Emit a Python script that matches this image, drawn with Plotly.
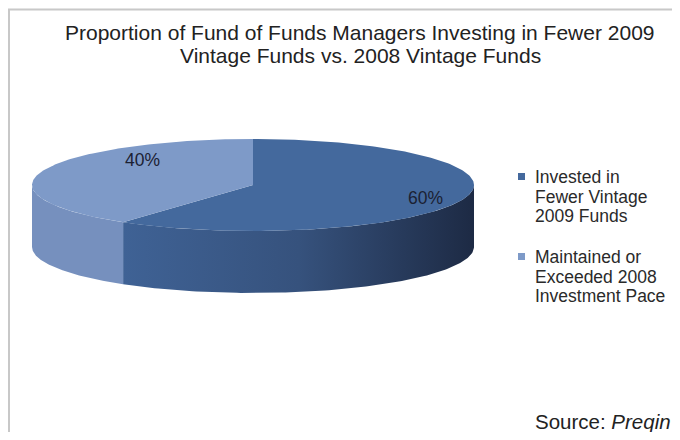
import numpy as np
import plotly.graph_objects as go

# ---- data ----
categories = ["Invested in<br>Fewer Vintage<br>2009 Funds",
              "Maintained or<br>Exceeded 2008<br>Investment Pace"]
values = [60, 40]
value_labels = ["60%", "40%"]
title_lines = ["Proportion of Fund of Funds Managers Investing in Fewer 2009",
               "Vintage Funds vs. 2008 Vintage Funds"]
source_text = "Source: <i>Preqin</i>"

# ---- styling / geometry (pixel space of the figure) ----
W, H = 664, 424
CX, CY, RX, RY, DEPTH = 245, 177, 221, 46, 62
top_colors = ["#44699D", "#7E9AC8"]
side_colors = [[[0, "#3F6295"], [0.5, "#36527D"], [1, "#1D2A44"]],
               [[0, "#7690BE"], [1, "#7690BE"]]]
label_pos = [(417, 190), (134, 152)]
FONT = "Liberation Sans, Arial, sans-serif"

fig = go.Figure()

total = float(sum(values))
starts = np.cumsum([0] + values[:-1]) / total * 360.0
ends = np.cumsum(values) / total * 360.0


def pt(theta_deg, dy=0.0):
    t = np.radians(theta_deg)
    return CX + RX * np.sin(t), CY - RY * np.cos(t) + dy


# side walls (visible front half: 90..270 deg clockwise from top)
for i in range(len(values)):
    a = max(starts[i], 90.0)
    b = min(ends[i], 270.0)
    if b <= a:
        continue
    th = np.linspace(a, b, 120)
    xt, yt = pt(th)
    xb, yb = pt(th[::-1], DEPTH)
    xs = np.concatenate([xt, xb, xt[:1]])
    ys = np.concatenate([yt, yb, yt[:1]])
    fig.add_trace(go.Scatter(
        x=xs, y=ys, mode="lines", fill="toself",
        line=dict(width=0, color=top_colors[i]),
        fillcolor=side_colors[i][0][1],
        fillgradient=dict(type="horizontal", colorscale=side_colors[i]),
        hoverinfo="skip", showlegend=False))

# top faces
for i in range(len(values)):
    th = np.linspace(starts[i], ends[i], 200)
    xa, ya = pt(th)
    xs = np.concatenate([[CX], xa, [CX]])
    ys = np.concatenate([[CY], ya, [CY]])
    fig.add_trace(go.Scatter(
        x=xs, y=ys, mode="lines", fill="toself",
        line=dict(width=0, color=top_colors[i]),
        fillcolor=top_colors[i],
        hoverinfo="skip", showlegend=False))

# value labels
for i, lab in enumerate(value_labels):
    fig.add_annotation(x=label_pos[i][0], y=label_pos[i][1], text=lab,
                       showarrow=False, xref="x", yref="y",
                       font=dict(family=FONT, size=17.5, color="#1B2133"))

# legend (swatch + text lines)
legend_x, legend_y0, legend_step, legend_line = 525, 169, 80, 19.5
for i, name in enumerate(categories):
    y0 = legend_y0 + i * legend_step
    fig.add_shape(type="rect", xref="x", yref="y",
                  x0=legend_x - 15, x1=legend_x - 8, y0=y0 - 4, y1=y0 + 3,
                  line=dict(width=0), fillcolor=top_colors[i])
    for j, line in enumerate(name.split("<br>")):
        fig.add_annotation(x=legend_x, y=y0 + j * legend_line, text=line,
                           xref="x", yref="y", showarrow=False,
                           xanchor="left", yanchor="middle",
                           font=dict(family=FONT, size=17.5, color="#2A2A2A"))

# frame
fig.add_shape(type="line", xref="x", yref="y",
              x0=1, x1=1, y0=1, y1=H,
              line=dict(color="#C8C8C8", width=2))
fig.add_shape(type="line", xref="x", yref="y",
              x0=0, x1=W, y0=1.5, y1=1.5,
              line=dict(color="#C8C8C8", width=2))

# title
for k, line in enumerate(title_lines):
    fig.add_annotation(
        x=352, y=24 + k * 23.5, xref="x", yref="y", text=line,
        showarrow=False, xanchor="center", yanchor="middle",
        font=dict(family=FONT, size=21, color="#222222"))

# source
fig.add_annotation(
    x=525, y=413, xref="x", yref="y",
    text=source_text, showarrow=False,
    xanchor="left", yanchor="middle",
    font=dict(family=FONT, size=20.5, color="#222222"))

fig.update_layout(
    width=W, height=H,
    margin=dict(l=0, r=0, t=0, b=0),
    paper_bgcolor="white", plot_bgcolor="white",
    xaxis=dict(range=[0, W], visible=False, fixedrange=True),
    yaxis=dict(range=[H, 0], visible=False, fixedrange=True),
    showlegend=False,
)

fig.write_html("out.html")
